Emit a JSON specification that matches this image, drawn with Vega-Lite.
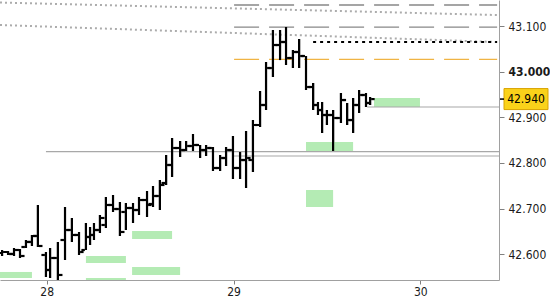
{
  "$schema": "https://vega.github.io/schema/vega-lite/v6.json",
  "width": 499,
  "height": 280,
  "autosize": {"type": "none"},
  "padding": {"left": 0, "top": 0, "right": 51, "bottom": 20},
  "background": "white",
  "config": {"view": {"stroke": null}, "font": "DejaVu Sans Condensed, DejaVu Sans"},
  "datasets": {
    "bars": [
      {"d": 27.761, "h": 42.6094, "l": 42.5963, "o": 42.6028, "c": 42.6050},
      {"d": 27.793, "h": 42.6072, "l": 42.5985, "o": 42.6050, "c": 42.6007},
      {"d": 27.825, "h": 42.6138, "l": 42.5963, "o": 42.6007, "c": 42.6094},
      {"d": 27.857, "h": 42.6116, "l": 42.5919, "o": 42.6094, "c": 42.5963},
      {"d": 27.889, "h": 42.6313, "l": 42.6138, "o": 42.6160, "c": 42.6270},
      {"d": 27.921, "h": 42.6423, "l": 42.6182, "o": 42.6270, "c": 42.6401},
      {"d": 27.953, "h": 42.7080, "l": 42.6160, "o": 42.6401, "c": 42.6182},
      {"d": 27.996, "h": 42.6050, "l": 42.5503, "o": 42.5985, "c": 42.5656},
      {"d": 28.018, "h": 42.6138, "l": 42.5481, "o": 42.5656, "c": 42.5919},
      {"d": 28.060, "h": 42.6270, "l": 42.5400, "o": 42.5919, "c": 42.5547},
      {"d": 28.098, "h": 42.7036, "l": 42.5875, "o": 42.6313, "c": 42.6532},
      {"d": 28.135, "h": 42.6795, "l": 42.6270, "o": 42.6532, "c": 42.6423},
      {"d": 28.173, "h": 42.6489, "l": 42.5985, "o": 42.6423, "c": 42.6050},
      {"d": 28.210, "h": 42.6686, "l": 42.6094, "o": 42.6094, "c": 42.6379},
      {"d": 28.232, "h": 42.6598, "l": 42.6204, "o": 42.6379, "c": 42.6423},
      {"d": 28.253, "h": 42.6686, "l": 42.6313, "o": 42.6423, "c": 42.6532},
      {"d": 28.285, "h": 42.6861, "l": 42.6467, "o": 42.6532, "c": 42.6795},
      {"d": 28.317, "h": 42.7255, "l": 42.6576, "o": 42.6642, "c": 42.7080},
      {"d": 28.355, "h": 42.7299, "l": 42.6927, "o": 42.7080, "c": 42.6992},
      {"d": 28.392, "h": 42.7145, "l": 42.6401, "o": 42.6992, "c": 42.6489},
      {"d": 28.424, "h": 42.7123, "l": 42.6532, "o": 42.6927, "c": 42.7014},
      {"d": 28.462, "h": 42.7123, "l": 42.6686, "o": 42.7014, "c": 42.6970},
      {"d": 28.494, "h": 42.7255, "l": 42.6861, "o": 42.6970, "c": 42.7189},
      {"d": 28.537, "h": 42.7386, "l": 42.6817, "o": 42.7189, "c": 42.7080},
      {"d": 28.569, "h": 42.7496, "l": 42.7036, "o": 42.7102, "c": 42.7277},
      {"d": 28.606, "h": 42.7627, "l": 42.6970, "o": 42.7277, "c": 42.7518},
      {"d": 28.639, "h": 42.8175, "l": 42.7518, "o": 42.7562, "c": 42.7956},
      {"d": 28.671, "h": 42.8547, "l": 42.7693, "o": 42.7956, "c": 42.8328},
      {"d": 28.714, "h": 42.8481, "l": 42.8131, "o": 42.8328, "c": 42.8284},
      {"d": 28.746, "h": 42.8481, "l": 42.8262, "o": 42.8284, "c": 42.8372},
      {"d": 28.783, "h": 42.8635, "l": 42.8262, "o": 42.8372, "c": 42.8394},
      {"d": 28.821, "h": 42.8394, "l": 42.8109, "o": 42.8394, "c": 42.8284},
      {"d": 28.853, "h": 42.8394, "l": 42.8153, "o": 42.8284, "c": 42.8328},
      {"d": 28.890, "h": 42.8350, "l": 42.7824, "o": 42.8328, "c": 42.7890},
      {"d": 28.928, "h": 42.8175, "l": 42.7824, "o": 42.7890, "c": 42.8109},
      {"d": 28.960, "h": 42.8350, "l": 42.7934, "o": 42.8109, "c": 42.8284},
      {"d": 28.997, "h": 42.8591, "l": 42.7649, "o": 42.8284, "c": 42.7890},
      {"d": 29.035, "h": 42.8240, "l": 42.7649, "o": 42.7890, "c": 42.8065},
      {"d": 29.067, "h": 42.8700, "l": 42.7452, "o": 42.8065, "c": 42.8109},
      {"d": 29.104, "h": 42.8941, "l": 42.7802, "o": 42.8065, "c": 42.8832},
      {"d": 29.142, "h": 42.9576, "l": 42.8788, "o": 42.8832, "c": 42.9270},
      {"d": 29.174, "h": 43.0212, "l": 42.9160, "o": 42.9270, "c": 43.0080},
      {"d": 29.211, "h": 43.0912, "l": 42.9883, "o": 43.0080, "c": 43.0584},
      {"d": 29.249, "h": 43.0912, "l": 43.0255, "o": 43.0584, "c": 43.0650},
      {"d": 29.281, "h": 43.0978, "l": 43.0146, "o": 43.0650, "c": 43.0299},
      {"d": 29.318, "h": 43.0474, "l": 43.0080, "o": 43.0299, "c": 43.0431},
      {"d": 29.351, "h": 43.0715, "l": 43.0080, "o": 43.0431, "c": 43.0343},
      {"d": 29.388, "h": 43.0343, "l": 42.9598, "o": 43.0343, "c": 42.9664},
      {"d": 29.426, "h": 42.9752, "l": 42.9160, "o": 42.9664, "c": 42.9270},
      {"d": 29.452, "h": 42.9336, "l": 42.9051, "o": 42.9270, "c": 42.9160},
      {"d": 29.474, "h": 42.9336, "l": 42.8657, "o": 42.9160, "c": 42.9051},
      {"d": 29.500, "h": 42.9160, "l": 42.8832, "o": 42.9051, "c": 42.9051},
      {"d": 29.533, "h": 42.9160, "l": 42.8262, "o": 42.9051, "c": 42.8985},
      {"d": 29.575, "h": 42.9533, "l": 42.8876, "o": 42.8985, "c": 42.9379},
      {"d": 29.608, "h": 42.9314, "l": 42.8832, "o": 42.9379, "c": 42.8941},
      {"d": 29.640, "h": 42.9423, "l": 42.8657, "o": 42.8941, "c": 42.9270},
      {"d": 29.672, "h": 42.9598, "l": 42.9095, "o": 42.9270, "c": 42.9489},
      {"d": 29.709, "h": 42.9533, "l": 42.9226, "o": 42.9489, "c": 42.9314},
      {"d": 29.731, "h": 42.9445, "l": 42.9270, "o": 42.9314, "c": 42.9400}
    ],
    "zones": [
      {"x1": 29.752, "x2": 29.998, "y1": 42.9423, "y2": 42.9226},
      {"x1": 29.388, "x2": 29.640, "y1": 42.8460, "y2": 42.8262},
      {"x1": 29.388, "x2": 29.533, "y1": 42.7408, "y2": 42.7036},
      {"x1": 28.457, "x2": 28.671, "y1": 42.6511, "y2": 42.6335},
      {"x1": 28.457, "x2": 28.714, "y1": 42.5722, "y2": 42.5547},
      {"x1": 28.210, "x2": 28.424, "y1": 42.5963, "y2": 42.5810},
      {"x1": 28.210, "x2": 28.424, "y1": 42.5481, "y2": 42.5393},
      {"x1": 27.750, "x2": 27.921, "y1": 42.5613, "y2": 42.5481}
    ],
    "lines": [
      {"name": "dot", "x1": 27.75, "x2": 30.411, "y1": 43.1515, "y2": 43.1241},
      {"name": "dot", "x1": 27.75, "x2": 30.411, "y1": 43.1022, "y2": 43.0650},
      {"name": "blackdot", "x1": 29.426, "x2": 30.411, "y1": 43.0650, "y2": 43.0650},
      {"name": "dash", "x1": 29.003, "x2": 30.411, "y1": 43.1460, "y2": 43.1460},
      {"name": "dash", "x1": 29.003, "x2": 30.411, "y1": 43.0978, "y2": 43.0978},
      {"name": "orange", "x1": 29.003, "x2": 30.411, "y1": 43.0270, "y2": 43.0270},
      {"name": "solid", "x1": 29.715, "x2": 30.421, "y1": 42.9226, "y2": 42.9226},
      {"name": "solid", "x1": 27.996, "x2": 30.421, "y1": 42.8247, "y2": 42.8247},
      {"name": "solid", "x1": 28.997, "x2": 30.421, "y1": 42.8153, "y2": 42.8153}
    ],
    "last": [{"price": 42.94, "label": "42.940"}]
  },
  "layer": [
    {
      "data": {"name": "bars"},
      "mark": {"type": "rule", "color": "#000000", "strokeWidth": 2, "clip": true},
      "encoding": {
        "x": {"field": "d", "type": "quantitative", "title": null, "scale": {"domain": [27.75, 30.421], "nice": false, "zero": false},
          "axis": {"orient": "bottom", "values": [28, 29, 30], "format": "d", "grid": false, "title": null,
            "domainColor": "#a0a0a0", "tickColor": "#808080", "tickSize": 4, "labelPadding": 2,
            "labelFontSize": 12, "labelColor": "#1a1a1a"}},
        "y": {"field": "l", "type": "quantitative", "title": null, "scale": {"domain": [42.5437, 43.157], "nice": false, "zero": false},
          "axis": {"orient": "right", "values": [42.6, 42.7, 42.8, 42.9, 43.0, 43.1], "format": ".3f", "grid": false, "title": null,
            "domainColor": "#a0a0a0", "tickColor": "#808080", "tickSize": 5, "labelPadding": 4,
            "labelFontSize": 12, "labelColor": "#1a1a1a",
            "labelFontWeight": {"condition": {"test": "abs(datum.value - 43) < 0.0001", "value": "bold"}, "value": "normal"}}},
        "y2": {"field": "h"}
      }
    },
    {
      "data": {"name": "zones"},
      "mark": {"type": "rect", "color": "#b4ebb4", "clip": true},
      "encoding": {
        "x": {"field": "x1", "type": "quantitative", "title": null},
        "x2": {"field": "x2"},
        "y": {"field": "y1", "type": "quantitative", "title": null},
        "y2": {"field": "y2"}
      }
    },
    {
      "data": {"name": "lines"},
      "transform": [{"filter": "datum.name == 'dot'"}],
      "mark": {"type": "rule", "color": "#acacac", "strokeWidth": 2, "strokeDash": [2, 3]},
      "encoding": {
        "x": {"field": "x1", "type": "quantitative", "title": null},
        "x2": {"field": "x2"},
        "y": {"field": "y1", "type": "quantitative", "title": null},
        "y2": {"field": "y2"}
      }
    },
    {
      "data": {"name": "lines"},
      "transform": [{"filter": "datum.name == 'dash'"}],
      "mark": {"type": "rule", "color": "#888888", "strokeWidth": 1.3, "strokeDash": [25, 10]},
      "encoding": {
        "x": {"field": "x1", "type": "quantitative", "title": null},
        "x2": {"field": "x2"},
        "y": {"field": "y1", "type": "quantitative", "title": null},
        "y2": {"field": "y2"}
      }
    },
    {
      "data": {"name": "lines"},
      "transform": [{"filter": "datum.name == 'orange'"}],
      "mark": {"type": "rule", "color": "#f0b444", "strokeWidth": 1.4, "strokeDash": [25, 10]},
      "encoding": {
        "x": {"field": "x1", "type": "quantitative", "title": null},
        "x2": {"field": "x2"},
        "y": {"field": "y1", "type": "quantitative", "title": null},
        "y2": {"field": "y2"}
      }
    },
    {
      "data": {"name": "lines"},
      "transform": [{"filter": "datum.name == 'solid'"}],
      "mark": {"type": "rule", "color": "#a8a8a8", "strokeWidth": 1.2},
      "encoding": {
        "x": {"field": "x1", "type": "quantitative", "title": null},
        "x2": {"field": "x2"},
        "y": {"field": "y1", "type": "quantitative", "title": null},
        "y2": {"field": "y2"}
      }
    },
    {
      "data": {"name": "lines"},
      "transform": [{"filter": "datum.name == 'blackdot'"}],
      "mark": {"type": "rule", "color": "#000000", "strokeWidth": 2, "strokeDash": [3, 4]},
      "encoding": {
        "x": {"field": "x1", "type": "quantitative", "title": null},
        "x2": {"field": "x2"},
        "y": {"field": "y1", "type": "quantitative", "title": null},
        "y2": {"field": "y2"}
      }
    },
    {
      "data": {"name": "bars"},
      "mark": {"type": "rule", "color": "#000000", "strokeWidth": 2.2, "clip": true},
      "encoding": {
        "x": {"field": "d", "type": "quantitative", "title": null},
        "y": {"field": "l", "type": "quantitative", "title": null},
        "y2": {"field": "h"}
      }
    },
    {
      "data": {"name": "bars"},
      "mark": {"type": "tick", "orient": "horizontal", "color": "#000000", "size": 3.5, "thickness": 2.2, "opacity": 1, "xOffset": -2.8, "clip": true},
      "encoding": {
        "x": {"field": "d", "type": "quantitative", "title": null},
        "y": {"field": "o", "type": "quantitative", "title": null}
      }
    },
    {
      "data": {"name": "bars"},
      "mark": {"type": "tick", "orient": "horizontal", "color": "#000000", "size": 3.5, "thickness": 2.2, "opacity": 1, "xOffset": 2.8, "clip": true},
      "encoding": {
        "x": {"field": "d", "type": "quantitative", "title": null},
        "y": {"field": "c", "type": "quantitative", "title": null}
      }
    },
    {
      "data": {"name": "last"},
      "mark": {"type": "tick", "orient": "horizontal", "color": "#fad21a", "stroke": "#d9a300", "strokeWidth": 1, "size": 44, "thickness": 21, "opacity": 1, "xOffset": 27, "clip": false},
      "encoding": {
        "x": {"value": "width"},
        "y": {"field": "price", "type": "quantitative", "title": null}
      }
    },
    {
      "data": {"name": "last"},
      "mark": {"type": "tick", "orient": "horizontal", "color": "#000000", "size": 4, "thickness": 1.5, "opacity": 1, "xOffset": 3, "clip": false},
      "encoding": {
        "x": {"value": "width"},
        "y": {"field": "price", "type": "quantitative", "title": null}
      }
    },
    {
      "data": {"name": "last"},
      "mark": {"type": "text", "color": "#000000", "fontSize": 12, "align": "center", "baseline": "middle", "xOffset": 27, "clip": false},
      "encoding": {
        "x": {"value": "width"},
        "y": {"field": "price", "type": "quantitative", "title": null},
        "text": {"field": "label"}
      }
    }
  ]
}
